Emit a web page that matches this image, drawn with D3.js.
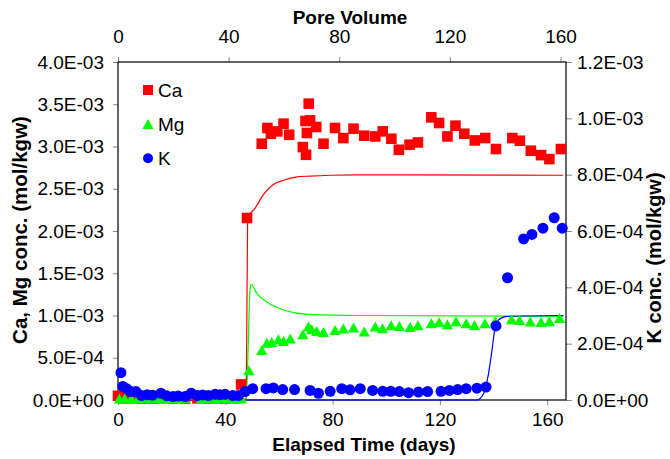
<!DOCTYPE html>
<html>
<head>
<meta charset="utf-8">
<script src="https://cdn.jsdelivr.net/npm/d3@7"></script>
<style>
  body { margin: 0; background: #fff; }
  svg { font-family: "Liberation Sans", Arial, sans-serif; }
</style>
</head>
<body>
<div id="chart"></div>
<script>
const caDays = [0, 1.8, 4.7, 8.8, 12.9, 16.0, 20.6, 25.0, 29.6, 33.7, 36.2, 39.9, 42.8, 45.9, 48.1,
  53.6, 55.7, 57.0, 59.4, 61.7, 63.8, 68.9, 69.9, 70.1, 70.4, 71.1, 71.6, 73.9, 76.6, 80.9, 84.0,
  87.8, 91.8, 95.9, 98.7, 101.9, 104.7, 108.7, 111.8, 116.8, 119.7, 122.8, 125.8, 129.1, 133.0,
  136.9, 140.9, 147.0, 149.8, 153.9, 157.7, 160.8, 165.1];
const caVals = [5e-5, 2e-5, 2e-5, 1.5e-5, 1.5e-5, 2e-5, 1.5e-5, 1.5e-5, 2e-5, 1.5e-5, 2e-5, 1.5e-5, 2e-5, 1.84e-4, 2.154e-3,
  3.033e-3, 3.219e-3, 3.151e-3, 3.179e-3, 3.270e-3, 3.139e-3, 2.993e-3, 3.302e-3, 2.902e-3, 3.160e-3, 3.507e-3, 3.309e-3,
  3.231e-3, 3.033e-3, 3.219e-3, 3.100e-3, 3.211e-3, 3.128e-3, 3.119e-3, 3.179e-3, 3.092e-3, 2.961e-3, 3.021e-3, 3.048e-3,
  3.345e-3, 3.278e-3, 3.119e-3, 3.246e-3, 3.151e-3, 3.072e-3, 3.100e-3, 2.970e-3, 3.100e-3, 3.068e-3, 2.950e-3, 2.898e-3,
  2.851e-3, 2.970e-3];

const mgDays = [0.5, 2.5, 5, 7.5, 10, 12.5, 15, 17.5, 20, 22.5, 25, 31, 33.5, 36, 38.5, 41, 43.5, 46, 48.8,
  53.6, 55.5, 57.3, 59.8, 61.7, 64.2, 68.9, 71.0, 72.2, 74.1, 76.6, 80.9, 84.0, 87.8, 91.8, 95.9, 98.6,
  101.8, 104.9, 108.9, 111.8, 116.8, 119.7, 122.8, 126.0, 129.8, 132.9, 136.8, 140.6, 146.7, 149.7,
  153.7, 157.7, 160.8, 164.6];
const mgVals = [5e-6, 5e-6, 5e-6, 5e-6, 5e-6, 5e-6, 5e-6, 5e-6, 5e-6, 5e-6, 5e-6, 5e-6, 5e-6, 5e-6, 5e-6, 5e-6, 5e-6, 5e-6, 0.34e-3,
  0.579e-3, 0.667e-3, 0.674e-3, 0.706e-3, 0.686e-3, 0.715e-3, 0.766e-3, 0.857e-3, 0.825e-3, 0.805e-3,
  0.793e-3, 0.817e-3, 0.833e-3, 0.845e-3, 0.798e-3, 0.857e-3, 0.837e-3, 0.872e-3, 0.864e-3, 0.852e-3,
  0.872e-3, 0.896e-3, 0.912e-3, 0.884e-3, 0.920e-3, 0.896e-3, 0.876e-3, 0.896e-3, 0.920e-3, 0.944e-3,
  0.935e-3, 0.916e-3, 0.912e-3, 0.920e-3, 0.959e-3];

const kDays = [1.1, 1.8, 3.2, 4.7, 6.7, 8.8, 10.9, 12.9, 16.0, 18.2, 20.6, 22.5, 25.0, 27.3, 29.6, 31.5,
  33.7, 36.2, 38.0, 39.9, 42.8, 44.9, 47.4, 50.2, 55.2, 57.9, 61.4, 65.8, 71.6, 74.7, 79.1, 83.4, 86.5,
  90.3, 94.9, 98.7, 101.7, 104.9, 108.3, 112.0, 115.4, 120.4, 123.5, 126.6, 129.8, 133.8, 137.2, 140.9,
  145.2, 151.2, 154.3, 158.4, 162.6, 165.6];
const kVals = [0.97e-4, 0.48e-4, 0.40e-4, 0.30e-4, 0.30e-4, 0.16e-4, 0.19e-4, 0.17e-4, 0.24e-4, 0.15e-4,
  0.12e-4, 0.14e-4, 0.12e-4, 0.24e-4, 0.16e-4, 0.18e-4, 0.16e-4, 0.20e-4, 0.19e-4, 0.20e-4,
  0.16e-4, 0.16e-4, 0.30e-4, 0.40e-4, 0.40e-4, 0.43e-4, 0.37e-4, 0.37e-4, 0.34e-4, 0.24e-4,
  0.31e-4, 0.40e-4, 0.36e-4, 0.40e-4, 0.34e-4, 0.31e-4, 0.31e-4, 0.30e-4, 0.26e-4, 0.28e-4,
  0.30e-4, 0.31e-4, 0.34e-4, 0.37e-4, 0.40e-4, 0.42e-4, 0.46e-4, 2.63e-4, 4.34e-4, 5.72e-4,
  5.88e-4, 6.10e-4, 6.47e-4, 6.10e-4];

// model curves
const caModelDays = [0, 20, 47.8, 48.3, 48.7, 51.1, 54.2, 57.9, 61.7, 66.7, 71.6, 79.1, 89, 104, 166];
const caModelVals = [1e-5, 1e-5, 1e-5, 2.1e-3, 2.17e-3, 2.27e-3, 2.43e-3, 2.55e-3, 2.6e-3, 2.64e-3, 2.65e-3, 2.66e-3, 2.665e-3, 2.665e-3, 2.66e-3];
const mgModelDays = [0, 20, 47.8, 48.5, 49.2, 49.6, 51.8, 55.5, 60.5, 65.5, 73, 89, 166];
const mgModelVals = [5e-6, 5e-6, 5e-6, 0.6e-3, 1.3e-3, 1.37e-3, 1.26e-3, 1.16e-3, 1.08e-3, 1.035e-3, 1.01e-3, 1.0e-3, 0.99e-3];
const kModelDays = [0, 133.8, 136.3, 138.1, 139.4, 140.4, 141.7, 145, 166];
const kModelVals = [0, 0, 0.23e-4, 0.93e-4, 1.76e-4, 2.47e-4, 2.83e-4, 2.97e-4, 3.0e-4];

const dayTicks = [0, 40, 80, 120, 160];
const poreTicks = [0, 40, 80, 120, 160];
const leftTicks = [0, 5e-4, 1e-3, 1.5e-3, 2e-3, 2.5e-3, 3e-3, 3.5e-3, 4e-3];
const rightTicks = [0, 2e-4, 4e-4, 6e-4, 8e-4, 1e-3, 1.2e-3];

const width = 670, height = 459;
const plot = {left: 118, right: 566, top: 62, bottom: 400};
const red = '#ff0000', green = '#00ff00', blue = '#0000ff';

const svg = d3.select('#chart').append('svg')
  .attr('width', width)
  .attr('height', height);

const x = d3.scaleLinear().domain([0, 167]).range([plot.left, plot.right]);
const xTop = d3.scaleLinear().domain([0, 162]).range([plot.left, plot.right]);
const yLeft = d3.scaleLinear().domain([0, 4e-3]).range([plot.bottom, plot.top]);
const yRight = d3.scaleLinear().domain([0, 1.2e-3]).range([plot.bottom, plot.top]);

// 4.0E-03 style labels
function sci(v) {
  if (v === 0) return '0.0E+00';
  const parts = d3.format('.1e')(v).split('e');
  const n = +parts[1];
  return parts[0] + 'E' + (n < 0 ? '-' : '+') + String(Math.abs(n)).padStart(2, '0');
}

function styleAxis(g) {
  g.attr('font-size', null).attr('font-family', null);
  g.select('.domain').remove();
  g.selectAll('.tick line').attr('stroke', '#888');
  g.selectAll('.tick text').attr('fill', '#000').style('font-size', '19px');
}

svg.append('g')
  .attr('transform', 'translate(' + plot.left + ',0)')
  .call(d3.axisLeft(yLeft).tickValues(leftTicks).tickFormat(sci).tickSize(5).tickPadding(9))
  .call(styleAxis);

svg.append('g')
  .attr('transform', 'translate(' + plot.right + ',0)')
  .call(d3.axisRight(yRight).tickValues(rightTicks).tickFormat(sci).tickSize(6).tickPadding(5))
  .call(styleAxis);

svg.append('g')
  .attr('transform', 'translate(0,' + plot.bottom + ')')
  .call(d3.axisBottom(x).tickValues(dayTicks).tickSize(5).tickPadding(8))
  .call(styleAxis);

svg.append('g')
  .attr('transform', 'translate(0,' + plot.top + ')')
  .call(d3.axisTop(xTop).tickValues(poreTicks).tickSize(5).tickPadding(14))
  .call(styleAxis);

// plot frame
svg.append('rect')
  .attr('x', plot.left)
  .attr('y', plot.top)
  .attr('width', plot.right - plot.left)
  .attr('height', plot.bottom - plot.top)
  .attr('fill', 'none')
  .attr('stroke', '#000')
  .attr('stroke-width', 1.2);

// model lines
function drawModel(days, vals, y, color) {
  const line = d3.line()
    .x(d => x(d[0]))
    .y(d => y(d[1]))
    .curve(d3.curveMonotoneX);
  svg.append('path')
    .datum(d3.zip(days, vals))
    .attr('d', line)
    .attr('fill', 'none')
    .attr('stroke', color)
    .attr('stroke-width', 1.2);
}
drawModel(caModelDays, caModelVals, yLeft, red);
drawModel(mgModelDays, mgModelVals, yLeft, green);
drawModel(kModelDays, kModelVals, yRight, blue);

// markers
const triangle = 'M0,-6L5.6,4L-5.6,4Z';

svg.append('g').selectAll('rect')
  .data(d3.zip(caDays, caVals))
  .enter()
  .append('rect')
  .attr('x', d => x(d[0]) - 5.3)
  .attr('y', d => yLeft(d[1]) - 5.3)
  .attr('width', 10.6)
  .attr('height', 10.6)
  .attr('fill', red);

svg.append('g').selectAll('path')
  .data(d3.zip(mgDays, mgVals))
  .enter()
  .append('path')
  .attr('d', triangle)
  .attr('transform', d => 'translate(' + x(d[0]) + ',' + yLeft(d[1]) + ')')
  .attr('fill', green);

svg.append('g').selectAll('circle')
  .data(d3.zip(kDays, kVals))
  .enter()
  .append('circle')
  .attr('cx', d => x(d[0]))
  .attr('cy', d => yRight(d[1]))
  .attr('r', 5.5)
  .attr('fill', blue);

// legend
const legend = svg.append('g').attr('transform', 'translate(148,0)');
legend.append('rect').attr('x', -5).attr('y', 85).attr('width', 10).attr('height', 10).attr('fill', red);
legend.append('path').attr('d', triangle).attr('transform', 'translate(0,125)').attr('fill', green);
legend.append('circle').attr('cx', 0).attr('cy', 158.3).attr('r', 5).attr('fill', blue);
legend.selectAll('text')
  .data([['Ca', 90], ['Mg', 124], ['K', 158.3]])
  .enter()
  .append('text')
  .attr('x', 10)
  .attr('y', d => d[1])
  .attr('dy', '0.35em')
  .style('font-size', '19px')
  .text(d => d[0]);

// axis titles
svg.append('text')
  .attr('x', 350)
  .attr('y', 24)
  .attr('text-anchor', 'middle')
  .style('font-size', '19px')
  .style('font-weight', 'bold')
  .text('Pore Volume');

svg.append('text')
  .attr('x', 364)
  .attr('y', 451)
  .attr('text-anchor', 'middle')
  .style('font-size', '19px')
  .style('font-weight', 'bold')
  .text('Elapsed Time (days)');

svg.append('text')
  .attr('transform', 'translate(27,230) rotate(-90)')
  .attr('text-anchor', 'middle')
  .style('font-size', '20.5px')
  .style('font-weight', 'bold')
  .text('Ca, Mg conc. (mol/kgw)');

svg.append('text')
  .attr('transform', 'translate(661,258) rotate(-90)')
  .attr('text-anchor', 'middle')
  .style('font-size', '20px')
  .style('font-weight', 'bold')
  .text('K conc. (mol/kgw)');
</script>
</body>
</html>
